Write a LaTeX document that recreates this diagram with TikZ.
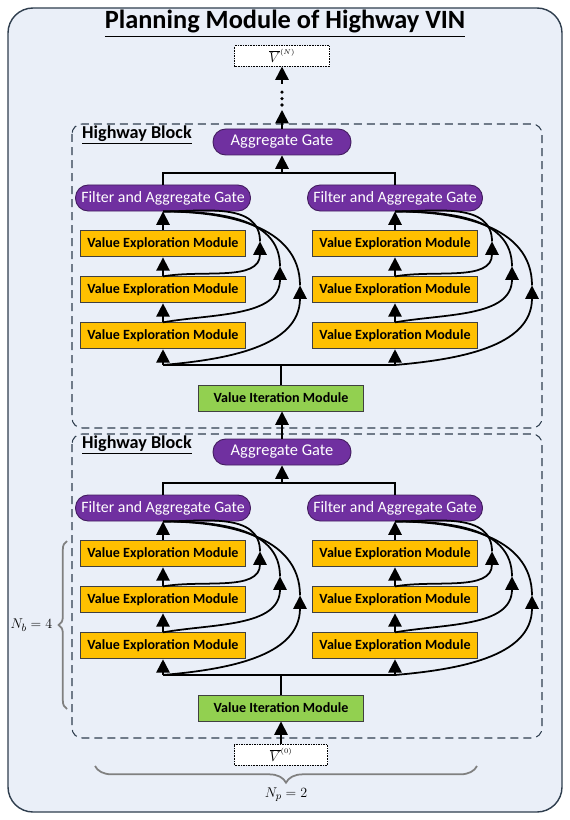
\documentclass[tikz,border=0pt]{standalone}
\usepackage{fontspec}
\setmainfont{Carlito}
\usepackage{amsmath}
\usetikzlibrary{arrows.meta,positioning,calc,decorations.pathreplacing}
\definecolor{bgblue}{HTML}{EAEFF8}
\definecolor{framec}{HTML}{2F3E4E}
\definecolor{gatepurple}{HTML}{7030A0}
\definecolor{vemyellow}{HTML}{FFC000}
\definecolor{vimgreen}{HTML}{92D050}
\tikzset{
    gate/.style={draw=gatepurple!60!black, fill=gatepurple, text=white, rounded corners=0.38cm, minimum width=5.25cm, minimum height=0.78cm, font=\fontsize{13.5}{15}\selectfont, line width=0.8pt},
    vem/.style={draw=black!75, fill=vemyellow, minimum width=4.95cm, minimum height=0.78cm, font=\bfseries\fontsize{12}{13}\selectfont, line width=0.8pt},
    vim/.style={vem, fill=vimgreen},
    vbox/.style={draw, densely dotted, fill=white, minimum width=3.09cm, minimum height=0.66cm, inner sep=0pt, font=\fontsize{12.5}{14}\selectfont},
    flow/.style={line width=1.5pt, -{Triangle[width=0.4cm,length=0.4cm]}},
    wire/.style={line width=1.5pt},
    blockline/.style={draw=framec, dash pattern=on 0.24cm off 0.15cm, line width=0.9pt, rounded corners=0.3cm},
    curly/.style={decorate, decoration={brace, amplitude=#1}, draw=gray, line width=1.5pt}
}

\begin{document}
\begin{tikzpicture}[x=0.03cm, y=-0.03cm]
                \useasboundingbox (0,0) rectangle (570,820);
                \draw[draw=framec, fill=bgblue, line width=1.2pt, rounded corners=0.75cm] (8,8) rectangle (562,812);
                \node[font=\bfseries\fontsize{22.5}{26}\selectfont] (title) at (285,24) {\underline{Planning Module of Highway VIN}};
                \node[vbox, minimum width=2.85cm, minimum height=0.62cm] (vN) at (282,56) {$\overline{V}^{\scriptscriptstyle(N)}$};
                \node[vbox, minimum width=2.79cm, minimum height=0.62cm] (v0) at (281,755) {$\overline{V}^{\scriptscriptstyle(0)}$};
                \foreach \b/\y in {u/142, l/452} {
                    \draw[blockline] (72,\y-18) rectangle (542,\y+286);
                    \node[anchor=west, inner sep=0pt, font=\bfseries\fontsize{15.5}{17}\selectfont] (hb\b) at (82,\y-7) {\underline{Highway Block}};
                    \node[gate, minimum width=4.14cm, font=\fontsize{14}{16}\selectfont] (ag\b) at (282,\y) {Aggregate Gate};
                    \node[vim] (vim\b) at (281,\y+256) {Value Iteration Module};
                    \coordinate (top\b) at (282,\y+31);
                    \coordinate (bus\b) at (281,\y+223);
                    \draw[flow] (top\b) -- (ag\b.south);
                    \draw[wire] (vim\b.north) -- (bus\b);
                    \foreach \s/\x in {a/163, b/395} {
                        \node[gate] (fag\b\s) at (\x,\y+56) {Filter and Aggregate Gate};
                        \node[vem, below=0.57cm of fag\b\s] (vemone\b\s) {Value Exploration Module};
                        \node[vem, below=0.57cm of vemone\b\s] (vemtwo\b\s) {Value Exploration Module};
                        \node[vem, below=0.57cm of vemtwo\b\s] (vemthree\b\s) {Value Exploration Module};
                        \coordinate (bus\b\s) at (vemthree\b\s.south |- bus\b);
                        \coordinate (skipone\b\s) at ($(fag\b\s.south)+(97,30)$);
                        \coordinate (skiptwo\b\s) at ($(fag\b\s.south)+(117,55)$);
                        \coordinate (skipthree\b\s) at ($(fag\b\s.south)+(137,74)$);
                        \draw[wire] (fag\b\s.north) |- (top\b);
                        \draw[wire] (bus\b) -- (bus\b\s);
                        \draw[flow] (vemone\b\s) -- (fag\b\s);
                        \draw[flow] (vemtwo\b\s) -- (vemone\b\s);
                        \draw[flow] (vemthree\b\s) -- (vemtwo\b\s);
                        \draw[flow] (bus\b\s) -- (vemthree\b\s.south);
                        \draw[flow] (vemtwo\b\s.north) to[out=10, in=-90] (skipone\b\s);
                        \draw[wire] (skipone\b\s) to[out=90, in=0] (fag\b\s.south);
                        \draw[flow] (vemthree\b\s.north) to[out=10, in=-90] (skiptwo\b\s);
                        \draw[wire] (skiptwo\b\s) to[out=90, in=0] (fag\b\s.south);
                        \draw[flow] (bus\b\s) to[out=5, in=-90] (skipthree\b\s);
                        \draw[wire] (skipthree\b\s) to[out=90, in=0] (fag\b\s.south);
                    }
                }
                \coordinate (tipone) at (282,110);
                \coordinate (dotstop) at (282,88);
                \coordinate (tiptwo) at (282,84);
                \draw[flow] (agu.north) -- (tipone);
                \draw[line width=3pt, line cap=round, dash pattern=on 0pt off 5.5pt] ($(tipone)+(0,-5)$) -- (dotstop);
                \draw[flow] (tiptwo) -- (vN.south);
                \draw[flow] (agl.north) -- (agl.north |- vimu.south);
                \draw[flow] (v0.north) -- (viml.south);
                \draw[curly=0.25cm] (67,709) -- (67,541) node[midway, left=0.3cm, font=\fontsize{12.5}{14}\selectfont] (nb) {$N_b=4$};
                \draw[curly=0.5cm] (477,766) -- (95,766) node[midway, below=0.5cm, font=\fontsize{12.5}{14}\selectfont] (np) {$N_p=2$};
            \end{tikzpicture}
\end{document}
